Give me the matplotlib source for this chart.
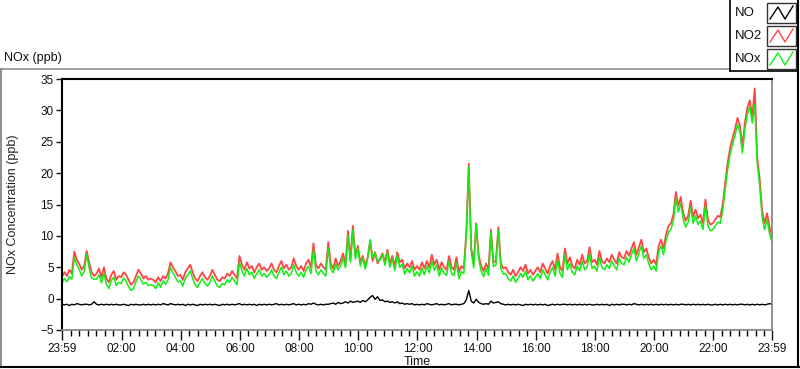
"""NOx concentration over one day (LabVIEW-style graph)."""
import matplotlib
matplotlib.use("Agg")
import matplotlib.pyplot as plt
from matplotlib.lines import Line2D
from matplotlib.patches import Rectangle

plt.rcParams['font.family'] = ['Liberation Sans', 'DejaVu Sans']

# minutes after midnight, one reading every 5 min, 23:59 -> 23:59
minutes = [-1 + 5 * i for i in range(289)]

no2 = [
    3.5, 4.2, 3.6, 4.6, 4.0, 7.5, 6.2, 5.5, 4.6, 5.2, 7.6, 5.8,
    4.2, 3.6, 4.0, 4.8, 3.4, 5.0, 3.2, 2.6, 3.8, 4.4, 3.0, 3.6,
    3.4, 4.2, 3.8, 3.0, 2.2, 2.6, 3.6, 4.6, 4.0, 3.2, 3.6, 3.0,
    3.2, 3.0, 2.6, 3.4, 2.8, 3.6, 3.2, 4.0, 5.8, 5.0, 4.4, 3.6,
    3.8, 3.0, 4.2, 4.8, 5.4, 4.2, 3.2, 2.8, 3.6, 4.2, 3.4, 3.0,
    3.6, 4.6, 3.8, 3.0, 2.8, 3.4, 3.2, 4.0, 3.6, 4.4, 3.8, 3.2,
    6.8, 5.4, 4.6, 5.8, 4.8, 5.2, 4.2, 5.0, 5.6, 4.6, 5.0, 4.4,
    4.8, 5.6, 4.6, 4.2, 5.2, 6.0, 4.8, 5.4, 4.6, 5.0, 6.4, 5.2,
    4.6, 5.2, 4.4, 5.6, 6.2, 5.0, 8.8, 5.4, 4.8, 5.6, 5.0, 4.6,
    9.0, 5.6, 4.8, 6.4, 5.2, 6.0, 7.2, 5.4, 10.8, 6.2, 11.6, 6.8,
    8.4, 5.8, 6.8, 5.2, 6.6, 9.2, 6.0, 7.4, 5.6, 6.4, 7.2, 5.8,
    7.8, 5.6, 6.8, 5.2, 7.4, 5.8, 6.2, 4.8, 5.6, 5.0, 6.0, 4.6,
    5.2, 4.6, 5.8, 4.8, 6.0, 5.0, 7.0, 5.4, 6.2, 4.6, 5.8, 5.0,
    4.6, 6.8, 5.0, 4.6, 6.6, 4.2, 5.2, 4.8, 10.5, 21.5, 8.0, 5.6,
    12.0, 7.0, 5.2, 4.4, 5.6, 4.6, 11.0, 5.8, 6.0, 11.4, 5.6, 4.8,
    5.0, 4.2, 3.8, 4.6, 3.6, 4.2, 5.0, 4.4, 5.4, 4.0, 4.6, 3.8,
    4.4, 5.0, 4.2, 5.6, 4.8, 4.0, 5.2, 6.0, 4.6, 7.2, 5.0, 4.4,
    8.0, 5.6, 6.6, 5.2, 4.8, 6.2, 5.4, 7.0, 5.6, 6.0, 8.2, 5.8,
    6.2, 5.4, 7.6, 6.0, 5.6, 6.4, 5.8, 7.0, 6.2, 5.6, 7.4, 6.6,
    6.4, 7.6, 6.8, 8.0, 9.0, 7.0, 8.2, 9.4, 7.4, 8.0, 6.6, 5.6,
    6.2, 5.4, 8.4, 9.4, 8.0, 10.2, 11.6, 12.0, 13.4, 17.0, 14.8, 16.2,
    13.6, 12.4, 13.2, 15.6, 13.0, 14.2, 12.8, 13.4, 12.0, 15.8, 12.6, 11.8,
    12.0, 12.6, 13.2, 13.0, 15.0, 18.4, 21.6, 24.0, 25.6, 27.0, 28.8, 27.6,
    24.2, 28.0, 30.4, 31.6, 29.0, 33.5, 22.6, 19.0, 14.0, 12.0, 13.6, 11.4,
    10.0,
]

nox = [
    2.5, 3.2, 2.7, 3.5, 3.1, 6.5, 5.4, 4.6, 3.6, 4.3, 7.1, 4.9,
    3.3, 3.1, 3.1, 3.8, 2.5, 4.0, 2.3, 1.6, 2.9, 3.4, 2.1, 2.6,
    2.4, 3.3, 2.8, 1.9, 1.3, 1.6, 2.7, 3.6, 3.0, 2.3, 2.6, 2.1,
    2.2, 2.1, 1.6, 2.5, 1.8, 2.8, 2.3, 3.0, 5.0, 4.1, 3.4, 2.7,
    2.8, 2.0, 3.2, 3.8, 4.4, 3.2, 2.2, 1.8, 2.6, 3.2, 2.4, 2.0,
    2.6, 3.6, 2.8, 2.0, 1.8, 2.4, 2.2, 3.0, 2.6, 3.4, 2.8, 2.2,
    5.8, 4.4, 3.6, 4.8, 3.8, 4.2, 3.2, 4.0, 4.6, 3.6, 4.0, 3.4,
    3.8, 4.6, 3.6, 3.2, 4.2, 5.0, 3.8, 4.4, 3.6, 4.0, 5.4, 4.2,
    3.6, 4.2, 3.4, 4.6, 5.2, 4.0, 7.8, 4.4, 3.8, 4.6, 4.0, 3.6,
    8.1, 4.8, 4.1, 5.5, 4.6, 5.2, 6.5, 4.9, 10.1, 5.8, 11.0, 6.3,
    8.0, 5.2, 6.5, 4.7, 6.4, 9.4, 6.5, 7.3, 5.9, 6.1, 7.0, 5.3,
    7.4, 5.0, 6.3, 4.5, 6.9, 5.0, 5.5, 3.9, 4.8, 4.1, 5.2, 3.6,
    4.3, 3.6, 4.9, 3.8, 5.2, 4.1, 6.0, 4.5, 5.4, 3.6, 4.9, 4.0,
    3.7, 6.0, 4.0, 3.7, 5.7, 3.2, 4.3, 4.0, 10.3, 21.0, 7.6, 4.9,
    11.9, 6.4, 4.4, 3.5, 4.8, 3.7, 10.6, 5.1, 5.4, 10.9, 4.8, 3.9,
    4.0, 3.2, 2.8, 3.6, 2.6, 3.2, 4.0, 3.4, 4.4, 3.0, 3.6, 2.8,
    3.4, 4.0, 3.2, 4.6, 3.8, 3.0, 4.2, 5.0, 3.6, 6.2, 4.0, 3.4,
    7.0, 4.6, 5.6, 4.2, 3.8, 5.2, 4.4, 6.0, 4.6, 5.0, 7.2, 4.8,
    5.2, 4.4, 6.6, 5.0, 4.6, 5.4, 4.8, 6.0, 5.2, 4.6, 6.4, 5.6,
    5.4, 6.6, 5.8, 7.0, 8.0, 6.0, 7.2, 8.4, 6.4, 7.0, 5.6, 4.6,
    5.2, 4.4, 7.4, 8.4, 7.0, 9.2, 10.6, 11.0, 12.4, 16.0, 13.8, 15.2,
    12.6, 11.4, 12.2, 14.6, 12.0, 13.2, 11.8, 12.4, 11.0, 14.8, 11.6, 10.8,
    11.0, 11.6, 12.2, 12.0, 14.0, 17.4, 20.6, 23.0, 24.6, 26.0, 27.8, 26.6,
    23.2, 27.0, 29.4, 30.6, 28.0, 31.0, 21.6, 18.0, 13.0, 11.0, 12.6, 10.4,
    9.0,
]

no = [
    -0.9, -1.0, -0.9, -1.1, -0.9, -1.0, -0.8, -0.9, -1.0, -0.9, -0.9, -1.0,
    -0.9, -0.5, -0.9, -1.0, -0.9, -1.0, -0.9, -1.0, -0.9, -1.0, -0.9, -1.0,
    -1.0, -0.9, -1.0, -1.1, -0.9, -1.0, -0.9, -1.0, -1.0, -0.9, -1.0, -0.9,
    -1.0, -0.9, -1.0, -0.9, -1.0, -0.8, -0.9, -1.0, -0.8, -0.9, -1.0, -0.9,
    -1.0, -0.9, -1.1, -0.9, -1.0, -0.9, -1.0, -1.1, -0.9, -1.0, -0.9, -1.0,
    -0.9, -1.0, -0.9, -1.0, -1.1, -0.9, -1.0, -0.9, -1.0, -0.9, -1.0, -0.9,
    -0.8, -1.0, -0.9, -1.0, -0.9, -1.0, -0.9, -1.1, -0.9, -1.0, -0.9, -1.0,
    -0.9, -1.0, -0.9, -0.8, -1.0, -0.9, -1.0, -0.9, -1.0, -0.9, -0.8, -1.0,
    -0.9, -1.0, -0.9, -1.0, -0.8, -0.9, -0.7, -0.9, -1.0, -0.9, -1.0, -0.9,
    -0.9, -0.8, -0.7, -0.9, -0.6, -0.8, -0.7, -0.5, -0.7, -0.4, -0.6, -0.5,
    -0.4, -0.6, -0.3, -0.5, -0.2, 0.2, 0.5, -0.1, 0.3, -0.3, -0.2, -0.5,
    -0.4, -0.6, -0.5, -0.7, -0.5, -0.8, -0.7, -0.9, -0.8, -0.9, -0.8, -1.0,
    -0.9, -1.0, -0.9, -1.0, -0.8, -0.9, -1.0, -0.9, -0.8, -1.0, -0.9, -1.0,
    -0.9, -0.8, -1.0, -0.9, -0.9, -1.0, -0.9, -0.8, -0.2, 1.3, -0.4, -0.7,
    -0.1, -0.6, -0.8, -0.9, -0.8, -0.9, -0.4, -0.7, -0.6, -0.5, -0.8, -0.9,
    -1.0, -0.9, -1.0, -0.9, -1.0, -0.9, -1.0, -1.1, -0.9, -1.0, -0.9, -1.0,
    -0.9, -1.0, -0.9, -1.0, -0.9, -1.1, -1.0, -0.9, -1.0, -0.9, -1.0, -0.9,
    -0.9, -1.0, -0.9, -1.0, -0.9, -1.0, -0.9, -1.0, -0.9, -1.0, -0.9, -1.0,
    -1.0, -0.9, -1.0, -0.9, -1.0, -0.9, -1.1, -0.9, -1.0, -0.9, -1.0, -0.9,
    -0.9, -1.0, -0.9, -1.0, -0.8, -0.9, -1.0, -0.9, -1.0, -0.9, -1.0, -0.9,
    -1.0, -0.9, -1.0, -0.9, -1.0, -0.9, -1.0, -0.9, -1.0, -0.9, -1.0, -0.9,
    -0.9, -1.0, -0.9, -1.0, -0.9, -1.0, -0.9, -1.0, -0.9, -1.0, -0.9, -1.0,
    -1.0, -0.9, -1.0, -0.9, -1.0, -0.9, -1.0, -0.9, -1.0, -0.9, -1.0, -0.9,
    -0.9, -1.0, -0.9, -1.0, -0.9, -1.0, -0.9, -1.0, -0.9, -1.0, -0.9, -0.8,
    -0.9,
]

xtick_pos = [-1, 120, 240, 360, 480, 600, 720, 840, 960, 1080, 1200, 1320, 1439]
xtick_labels = ['23:59', '02:00', '04:00', '06:00', '08:00', '10:00', '12:00',
                '14:00', '16:00', '18:00', '20:00', '22:00', '23:59']
ytick_pos = [-5, 0, 5, 10, 15, 20, 25, 30, 35]

series = [('NO', no, 'black'), ('NO2', no2, '#ff4444'), ('NOx', nox, '#11ee11')]

W, H = 800, 369
fig = plt.figure(figsize=(W / 100, H / 100), dpi=100)
fig.patch.set_facecolor('white')


def fx(px):
    return px / W


def fy(py):
    return 1 - py / H


ax = fig.add_axes([fx(62), fy(330), fx(772) - fx(62), fy(79) - fy(330)])

ax.plot(minutes, no, color='black', lw=1.0)
ax.plot(minutes, no2, color='#ff4444', lw=1.3)
ax.plot(minutes, nox, color='#11ee11', lw=1.1)

ax.set_xlim(-1, 1439)
ax.set_ylim(-5, 35)
ax.set_yticks(ytick_pos)
ax.set_xticks(xtick_pos)
ax.set_xticklabels(xtick_labels)
minor = [120 * k / 7 for k in range(1, 84) if k % 7 != 0]
ax.set_xticks(minor, minor=True)
ax.tick_params(axis='both', labelsize=8.5, colors='#111', labelcolor='#111')
ax.tick_params(axis='x', which='major', length=7, width=1, pad=2)
ax.tick_params(axis='x', which='minor', length=4, width=1)
ax.tick_params(axis='y', length=4, width=1, pad=2)

ax.spines['left'].set_color('black')
ax.spines['top'].set_color('black')
ax.spines['left'].set_linewidth(1.5)
ax.spines['top'].set_linewidth(1.5)
ax.spines['right'].set_color('#888888')
ax.spines['bottom'].set_color('#888888')
ax.spines['right'].set_linewidth(1.3)
ax.spines['bottom'].set_linewidth(1.3)

ax.set_ylabel('NOx Concentration (ppb)', fontsize=9, color='#222', va='center')
ax.yaxis.set_label_coords((13 - 62) / 710, 0.5)
ax.set_xlabel('Time', fontsize=9, color='#111', labelpad=1)

# panel title
fig.text(fx(4), fy(58), 'NOx (ppb)', fontsize=9, color='#111', va='center', ha='left')


# panel frame
def seg(x0, y0, x1, y1, col, lw=1.0):
    fig.add_artist(Line2D([fx(x0), fx(x1)], [fy(y0), fy(y1)], color=col, lw=lw,
                          transform=fig.transFigure))


seg(0.5, 69, 730, 69, '#909090', 1.2)
seg(1, 69, 1, 367, '#909090', 1.5)
seg(0, 367, 799, 367, 'black', 1.5)
seg(798, 0, 798, 367, 'black', 1.5)
seg(730, 0, 730, 71, 'black', 1.2)
seg(730, 71, 798, 71, 'black', 1.2)

# legend
rows = [13, 36, 59]
for (name, vals, col), yc in zip(series, rows):
    fig.text(fx(735), fy(yc), name, fontsize=9.5, color='#111', va='center', ha='left')
    fig.add_artist(Rectangle((fx(767), fy(yc + 10)), fx(796) - fx(767), fy(yc - 10) - fy(yc + 10),
                             transform=fig.transFigure, fill=False, ec='#333', lw=1))
    zx = [770, 778, 785, 793]
    zy = [yc + 6, yc - 6, yc + 6, yc - 7]
    fig.add_artist(Line2D([fx(v) for v in zx], [fy(v) for v in zy], color=col, lw=1,
                          transform=fig.transFigure))

fig.savefig('out.png', dpi=100)
